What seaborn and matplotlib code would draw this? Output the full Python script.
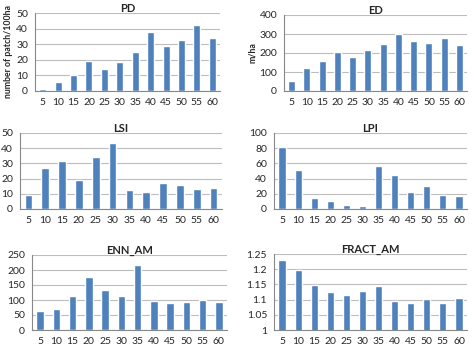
import numpy as np
import pandas as pd
import matplotlib
matplotlib.use('Agg')
import matplotlib.pyplot as plt
import seaborn as sns

# distance classes (x axis)
classes = ['5', '10', '15', '20', '25', '30', '35', '40', '45', '50', '55', '60']

# landscape metrics
pd_vals = [1.5, 6, 10, 19, 14, 18.5, 25, 38, 29, 32.5, 42, 34]
ed_vals = [55, 122, 158, 205, 180, 218, 250, 298, 262, 255, 280, 242]
lsi_vals = [9, 27, 31.5, 19, 34.5, 43.5, 12.5, 11.5, 17, 16, 13, 14]
lpi_vals = [81, 51, 15, 10, 5, 4, 56, 45, 22, 30, 19, 17]
enn_vals = [62, 70, 114, 178, 135, 113, 217, 96, 90, 95, 100, 95]
fract_vals = [1.23, 1.198, 1.149, 1.124, 1.116, 1.128, 1.145, 1.097, 1.089, 1.103, 1.088, 1.106]

titles = ['PD', 'ED', 'LSI', 'LPI', 'ENN_AM', 'FRACT_AM']
ylabels = ['number of patch/100ha', 'm/ha', '', '', '', '']
yticks = [
    [0, 10, 20, 30, 40, 50],
    [0, 100, 200, 300, 400],
    [0, 10, 20, 30, 40, 50],
    [0, 20, 40, 60, 80, 100],
    [0, 50, 100, 150, 200, 250],
    [1, 1.05, 1.1, 1.15, 1.2, 1.25],
]
ytick_labels = [
    None, None, None, None, None,
    ['1', '1.05', '1.1', '1.15', '1.2', '1.25'],
]
series = [pd_vals, ed_vals, lsi_vals, lpi_vals, enn_vals, fract_vals]

sns.set_style('white')
plt.rcParams['font.family'] = ['Lato', 'DejaVu Sans']

W, H = 474, 358
fig = plt.figure(figsize=(W / 100, H / 100), dpi=100)

# plot area boxes in pixels: left, top, right, bottom
boxes = [
    (35, 13, 220, 91),
    (284, 15, 467, 91),
    (20, 133, 222, 209),
    (274, 133, 467, 209),
    (32, 255, 227, 330),
    (274, 254, 467, 330),
]

bar_color = '#4F81BD'
grid_color = '#BDBDBD'

for i in range(6):
    l, t, r, b = boxes[i]
    ax = fig.add_axes([l / W, 1 - b / H, (r - l) / W, (b - t) / H])
    df = pd.DataFrame({'cls': classes, 'val': series[i]})
    sns.barplot(data=df, x='cls', y='val', color=bar_color, saturation=1,
                width=0.45, ax=ax, order=classes)
    yt = yticks[i]
    ax.set_ylim(yt[0], yt[-1])
    ax.set_yticks(yt)
    if ytick_labels[i] is not None:
        ax.set_yticklabels(ytick_labels[i])
    ax.set_xlim(-0.5, len(classes) - 0.5)
    ax.yaxis.grid(True, color=grid_color, linewidth=0.8)
    ax.set_axisbelow(True)
    for s in ['top', 'right']:
        ax.spines[s].set_visible(False)
    for s in ['left', 'bottom']:
        ax.spines[s].set_color('#888888')
        ax.spines[s].set_linewidth(0.8)
    ax.set_xticks(np.arange(-0.5, len(classes)), minor=True)
    ax.tick_params(axis='x', which='major', length=0, labelsize=7.5, pad=5)
    ax.tick_params(axis='x', which='minor', length=3, color='#888888', width=0.8)
    ax.tick_params(axis='y', length=3, color='#888888', width=0.8, labelsize=7.5, pad=2)
    ax.set_xlabel('')
    ax.set_ylabel(ylabels[i], fontsize=6.3, fontweight='bold', labelpad=2)
    ax.set_title(titles[i], fontsize=8, fontweight='bold', pad=1)

fig.savefig('out.png', dpi=100)
